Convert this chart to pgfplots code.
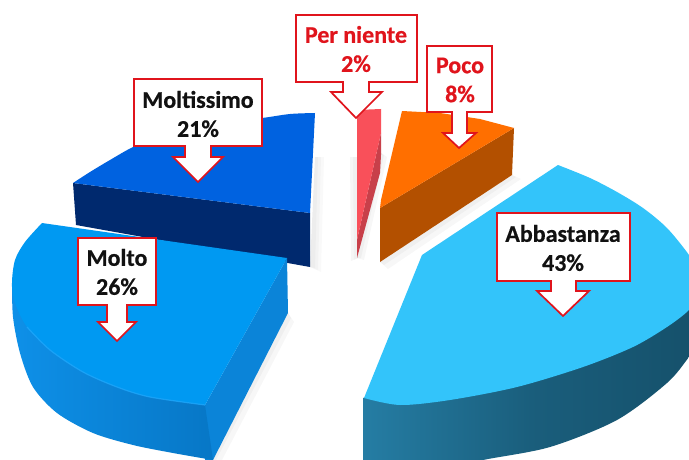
\documentclass[border=0pt]{standalone}
\usepackage{fontspec}
\setmainfont[BoldFeatures={FakeBold=0.5}]{Carlito}
\usepackage{pgfplots}
\pgfplotsset{compat=1.18}
\definecolor{lab}{HTML}{E0141C}
\definecolor{labk}{HTML}{111111}
\definecolor{mtTop}{HTML}{0062E0}
\definecolor{mtSide}{HTML}{00296E}
\definecolor{moTop}{HTML}{0099F2}
\definecolor{moSideL}{HTML}{0E90E8}
\definecolor{moSideR}{HTML}{0777C6}
\definecolor{moFace}{HTML}{0B84D8}
\definecolor{moHi}{HTML}{1FA6FA}
\definecolor{abTop}{HTML}{33C4FA}
\definecolor{abL}{HTML}{257DA4}
\definecolor{abR}{HTML}{15506A}
\definecolor{orTop}{HTML}{FF6F00}
\definecolor{orSide}{HTML}{B35000}
\definecolor{peTop}{HTML}{F9505A}
\definecolor{peSide}{HTML}{C8404A}
\pgfplotsset{
  f/.style={draw=none,fill=#1,mark=none,forget plot},
  sh/.style={draw=none,fill=black,fill opacity=#1,mark=none,forget plot},
  co/.style={draw=lab,line width=1.7pt,fill=white,mark=none,forget plot,line join=miter},
}
\newcommand{\lbl}[4]{\node[text=#3,font=\fontsize{24}{29}\selectfont\bfseries,align=center,inner sep=0pt] at (axis cs:#1,#2) {#4};}
\begin{document}
\begin{tikzpicture}
\begin{axis}[
  width=689pt,height=460pt,scale only axis,
  xmin=0,xmax=689,ymin=0,ymax=460,y dir=reverse,
  hide axis,clip=true]
% page extent
\addplot[f=white] coordinates {(0,0)(689,0)(689,460)(0,460)} -- cycle;
% soft shadows
\addplot[sh=0.03] coordinates {(288,313)(291,318)(216,460)(213,460)} -- cycle;
\addplot[sh=0.03] coordinates {(288,313)(294,322)(222,460)(213,460)} -- cycle;
\addplot[sh=0.025] coordinates {(315,157)(318,157)(315,268)(310,267)} -- cycle;
\addplot[sh=0.025] coordinates {(315,157)(321,157)(318,270)(310,267)} -- cycle;
\addplot[sh=0.025] coordinates {(315,157)(324,157)(321,272)(310,267)} -- cycle;
\addplot[sh=0.035] coordinates {(350,157)(358,157)(358,258)(351,261)} -- cycle;
\addplot[sh=0.025] coordinates {(353,157)(358,157)(358,258)(354,260)} -- cycle;
\addplot[sh=0.03] coordinates {(381,153)(384,155)(361,258)(357,258)} -- cycle;
\addplot[sh=0.03] coordinates {(381,153)(387,157)(364,260)(357,258)} -- cycle;
\addplot[sh=0.03] coordinates {(512,175)(516,177)(384,265)(380,262)} -- cycle;
\addplot[sh=0.03] coordinates {(512,175)(521,179)(388,269)(380,262)} -- cycle;
% Moltissimo 21%
\addplot[f=mtSide] coordinates {(73,183)(76,225)(310,267)(310,213)} -- cycle;
\addplot[f=mtTop,smooth] coordinates {(73,183)(90,172)(110,160)(133,147)(160,136)(200,127)(230,121)(262,118)(290,114)(315,113)} -- (axis cs:310,213) -- cycle;
% Molto 26%
\addplot[f=moFace] coordinates {(205,405)(287,258)(288,313)(213,460)(205,460)} -- cycle;
\addplot[draw=none,left color=moSideL,right color=moSideR,mark=none,forget plot,smooth] coordinates {(12,283)(13,317)(20,353)(33,387)(57,413)(93,433)(133,445)(173,453)(213,460)} -- (axis cs:205,405) -- (axis cs:100,300) -- cycle;
\addplot[f=moTop,smooth] coordinates {(42,223)(25,242)(15,260)(12,283)(15,303)(27,327)(50,350)(83,372)(117,387)(150,397)(205,405)} -- (axis cs:287,258) -- cycle;
\addplot[draw=moHi,line width=1.2pt,mark=none,forget plot,smooth,draw opacity=0.8] coordinates {(27,327)(50,350)(83,372)(117,387)(150,397)(205,405)};
% Abbastanza 43%
\addplot[draw=none,left color=abL,right color=abR,middle color=abR!70!abL,mark=none,forget plot,smooth] coordinates {(705,335)(689,357)(667,383)(617,420)(550,447)(483,460)(430,472)(363,480)} -- (axis cs:363,398) -- (axis cs:705,290) -- cycle;
\addplot[f=abTop,smooth] coordinates {(558,165)(590,178)(617,192)(643,208)(667,228)(689,255)(700,275)(704,290)(689,310)(667,327)(633,347)(583,367)(517,387)(450,400)(400,405)(364,398)} -- (axis cs:422,255) -- cycle;
% Poco 8%
\addplot[f=orSide] coordinates {(380,208)(514,128)(512,175)(380,262)} -- cycle;
\addplot[f=orTop] coordinates {(402,111)(440,113)(480,119)(514,128)(380,208)(381,200)} -- cycle;
% Per niente 2%
\addplot[f=peSide] coordinates {(381,133)(381,155)(380,173)(357,258)(357,240)} -- cycle;
\addplot[f=peTop] coordinates {(357,110)(381,109)(381,133)(357,240)} -- cycle;
% callouts
\addplot[co] coordinates {(296,15)(417,15)(417,82)(369,82)(369,92)(382,92)(356,118)(331,92)(343,92)(343,82)(296,82)} -- cycle;
\addplot[co] coordinates {(427,46)(492,46)(492,112)(467,112)(467,133)(476,133)(459,148)(443,133)(452,133)(452,112)(427,112)} -- cycle;
\addplot[co] coordinates {(134,79)(262,79)(262,146)(211,146)(211,157)(223,157)(198,182)(173,157)(185,157)(185,146)(134,146)} -- cycle;
\addplot[co] coordinates {(78,238)(156,238)(156,305)(127,305)(127,322)(136,322)(117,341)(98,322)(107,322)(107,305)(78,305)} -- cycle;
\addplot[co] coordinates {(497,213)(630,213)(630,281)(576,281)(576,291)(589,291)(563,316)(537,291)(551,291)(551,281)(497,281)} -- cycle;
% labels
\lbl{356}{49}{lab}{Per niente\\2\%}
\lbl{460}{80}{lab}{Poco\\8\%}
\lbl{198}{114}{labk}{Moltissimo\\21\%}
\lbl{117}{272}{labk}{Molto\\26\%}
\lbl{563}{248}{labk}{Abbastanza\\43\%}
\end{axis}
\end{tikzpicture}
\end{document}
